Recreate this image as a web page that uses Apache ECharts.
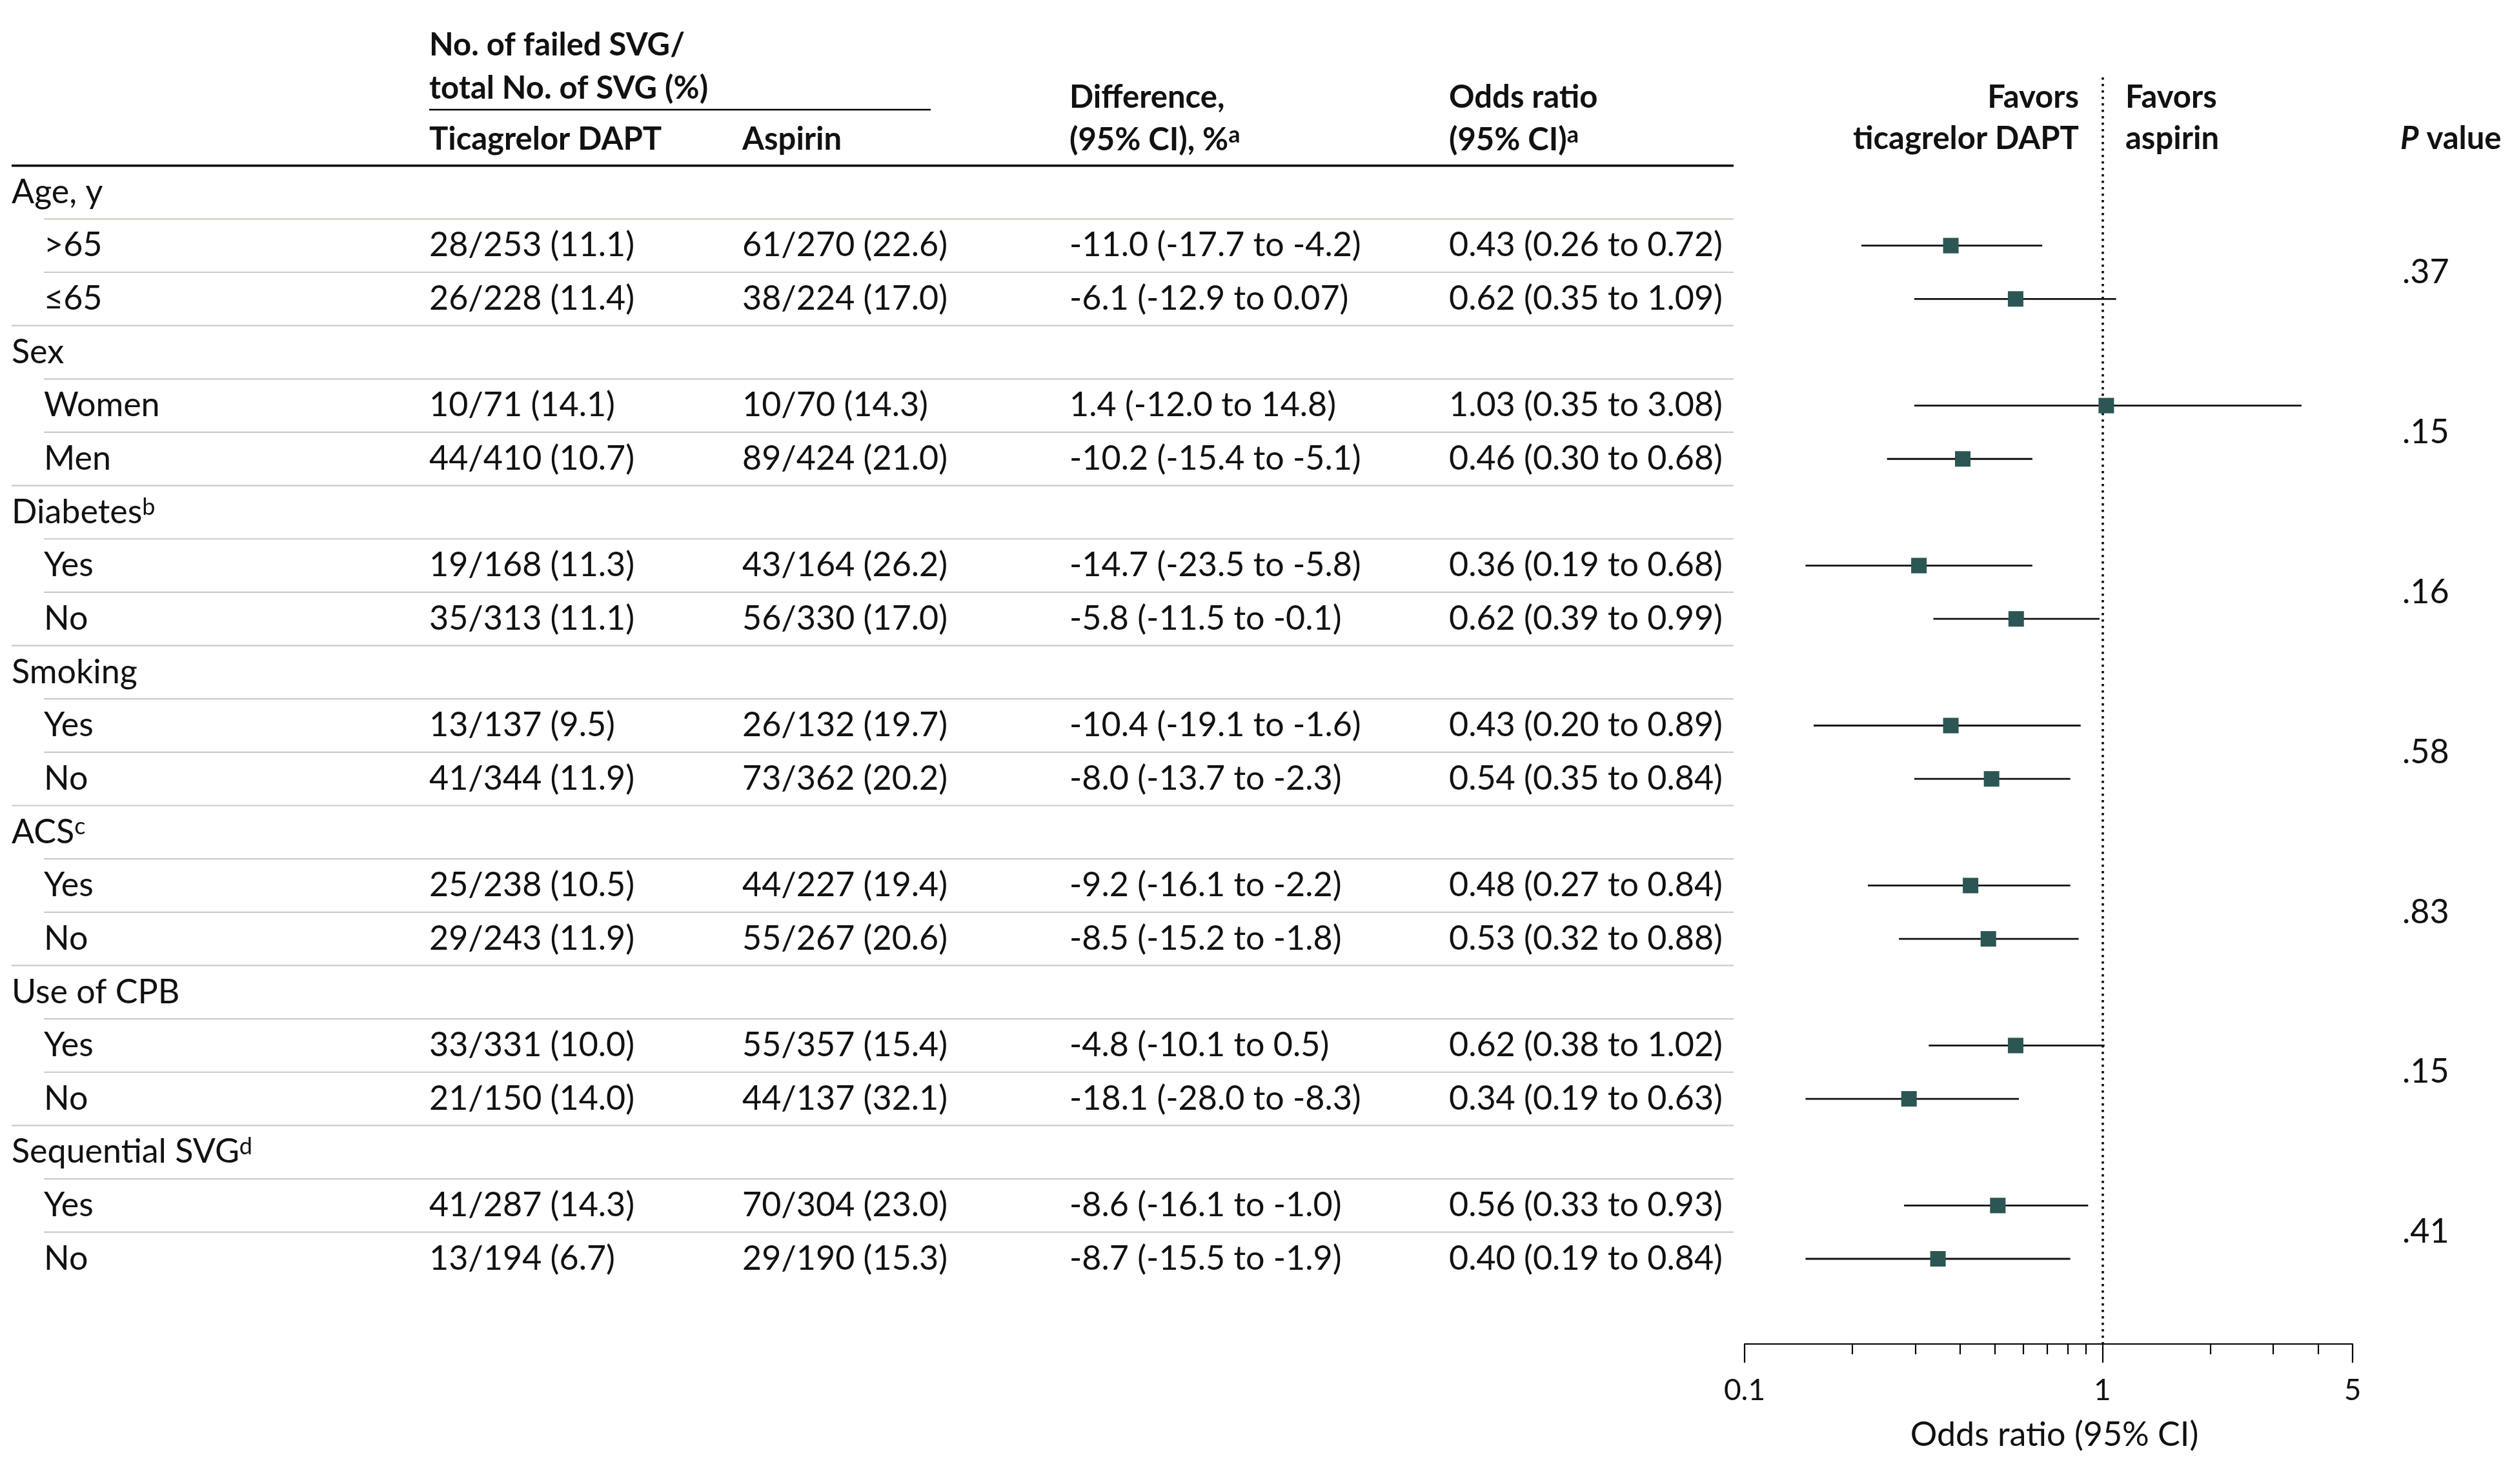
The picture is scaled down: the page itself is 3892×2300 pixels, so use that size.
<!DOCTYPE html>
<html>
<head>
<meta charset="utf-8">
<script src="https://cdn.jsdelivr.net/npm/echarts@6/dist/echarts.min.js"></script>
<style>
html,body{margin:0;padding:0;background:#ffffff;}
#chart{width:3892px;height:2300px;}
</style>
</head>
<body>
<div id="chart"></div>
<script>
// ---------------- DATA ----------------
const groupLabels = ['Age, y', 'Sex', 'Diabetes', 'Smoking', 'ACS', 'Use of CPB', 'Sequential SVG'];
const groupNotes = ['', '', 'b', '', 'c', '', 'd'];
const subgroupLabels = ['>65', '≤65', 'Women', 'Men', 'Yes', 'No', 'Yes', 'No', 'Yes', 'No', 'Yes', 'No', 'Yes', 'No'];
const ticagrelorCounts = ['28/253 (11.1)', '26/228 (11.4)', '10/71 (14.1)', '44/410 (10.7)', '19/168 (11.3)', '35/313 (11.1)',
  '13/137 (9.5)', '41/344 (11.9)', '25/238 (10.5)', '29/243 (11.9)', '33/331 (10.0)', '21/150 (14.0)', '41/287 (14.3)', '13/194 (6.7)'];
const aspirinCounts = ['61/270 (22.6)', '38/224 (17.0)', '10/70 (14.3)', '89/424 (21.0)', '43/164 (26.2)', '56/330 (17.0)',
  '26/132 (19.7)', '73/362 (20.2)', '44/227 (19.4)', '55/267 (20.6)', '55/357 (15.4)', '44/137 (32.1)', '70/304 (23.0)', '29/190 (15.3)'];
const differenceText = ['-11.0 (-17.7 to -4.2)', '-6.1 (-12.9 to 0.07)', '1.4 (-12.0 to 14.8)', '-10.2 (-15.4 to -5.1)',
  '-14.7 (-23.5 to -5.8)', '-5.8 (-11.5 to -0.1)', '-10.4 (-19.1 to -1.6)', '-8.0 (-13.7 to -2.3)', '-9.2 (-16.1 to -2.2)',
  '-8.5 (-15.2 to -1.8)', '-4.8 (-10.1 to 0.5)', '-18.1 (-28.0 to -8.3)', '-8.6 (-16.1 to -1.0)', '-8.7 (-15.5 to -1.9)'];
const oddsRatioText = ['0.43 (0.26 to 0.72)', '0.62 (0.35 to 1.09)', '1.03 (0.35 to 3.08)', '0.46 (0.30 to 0.68)',
  '0.36 (0.19 to 0.68)', '0.62 (0.39 to 0.99)', '0.43 (0.20 to 0.89)', '0.54 (0.35 to 0.84)', '0.48 (0.27 to 0.84)',
  '0.53 (0.32 to 0.88)', '0.62 (0.38 to 1.02)', '0.34 (0.19 to 0.63)', '0.56 (0.33 to 0.93)', '0.40 (0.19 to 0.84)'];
// positions of the plotted marks
const plottedOR    = [0.377, 0.572, 1.025, 0.407, 0.307, 0.574, 0.377, 0.490, 0.428, 0.480, 0.572, 0.288, 0.510, 0.347];
const plottedLower = [0.212, 0.298, 0.298, 0.250, 0.148, 0.337, 0.156, 0.298, 0.221, 0.270, 0.327, 0.148, 0.279, 0.148];
const plottedUpper = [0.679, 1.092, 3.600, 0.637, 0.637, 0.981, 0.869, 0.813, 0.813, 0.858, 1.014, 0.584, 0.912, 0.813];
const pValues = ['.37', '.15', '.16', '.58', '.83', '.15', '.41'];
const majorTicks = [0.1, 1, 5];
const majorTickLabels = ['0.1', '1', '5'];
const minorTicks = [0.2, 0.3, 0.4, 0.5, 0.6, 0.7, 0.8, 0.9, 2, 3, 4];
const axisTitle = 'Odds ratio (95% CI)';

// ---------------- LAYOUT ----------------
const FONT = 'Lato';
const INK = '#111111';
const RULE = '#c9cdc3';
const COL = { group: 18, sub: 68, tic: 665, asp: 1150, diff: 1657, or: 2245, p: 3722 };
const TABLE_RIGHT = 2686;
const ROW_TOP = 298, ROW_STEP = 82.65, PLOT_TOP = 120, PLOT_BOTTOM = 2083;
const yMin = (PLOT_TOP - ROW_TOP) / ROW_STEP;
const yMax = (PLOT_BOTTOM - ROW_TOP) / ROW_STEP;

const rows = [];
groupLabels.forEach((g, gi) => {
  rows.push({ kind: 'group', gi: gi });
  rows.push({ kind: 'sub', si: gi * 2 });
  rows.push({ kind: 'sub', si: gi * 2 + 1 });
});
const rowOfSub = s => Math.floor(s / 2) * 3 + 1 + (s % 2);

function supRich(weight, base) {
  return {
    s: { fontFamily: FONT, fontSize: 36, fontWeight: weight, fill: INK, textFill: INK, color: INK,
         verticalAlign: 'top', textVerticalAlign: 'top', lineHeight: 34 },
    i: { fontFamily: FONT, fontSize: base, fontWeight: weight, fontStyle: 'italic', fill: INK, textFill: INK, color: INK,
         lineHeight: 52 }
  };
}
function txt(x, y, text, opt) {
  opt = opt || {};
  const size = opt.size || 52;
  const weight = opt.weight || 'normal';
  const align = opt.align || 'left';
  return {
    type: 'text',
    silent: true,
    style: {
      x: x, y: y, text: text,
      fontFamily: FONT, fontSize: size, fontWeight: weight,
      fill: INK, textFill: INK,
      align: align, textAlign: align,
      verticalAlign: 'middle', textVerticalAlign: 'middle',
      lineHeight: 52, textLineHeight: 52,
      rich: supRich(weight, size)
    }
  };
}

function renderTable(params, api) {
  const i = params.dataIndex;
  const r = rows[i];
  const cy = api.coord([0, i])[1];
  const yTop = api.coord([0, i - 0.5])[1];
  const X = v => api.coord([v, i])[0];
  const children = [];
  const start = (r.kind === 'group') ? COL.group : COL.sub;
  children.push({
    type: 'line', silent: true,
    shape: { x1: X(start), y1: yTop, x2: X(TABLE_RIGHT), y2: yTop },
    style: { stroke: i === 0 ? '#000' : RULE, lineWidth: i === 0 ? 3.5 : 2.2 }
  });
  if (r.kind === 'group') {
    const note = groupNotes[r.gi];
    children.push(txt(X(COL.group), cy, groupLabels[r.gi] + (note ? '{s|' + note + '}' : '')));
    children.push(txt(X(COL.p), api.coord([0, i + 1.5])[1], pValues[r.gi]));
  } else {
    const s = r.si;
    children.push(txt(X(COL.sub), cy, subgroupLabels[s]));
    children.push(txt(X(COL.tic), cy, ticagrelorCounts[s]));
    children.push(txt(X(COL.asp), cy, aspirinCounts[s]));
    children.push(txt(X(COL.diff), cy, differenceText[s]));
    children.push(txt(X(COL.or), cy, oddsRatioText[s]));
  }
  return { type: 'group', children: children };
}

function renderCI(params, api) {
  const y = api.value(2);
  const a = api.coord([api.value(0), y]);
  const b = api.coord([api.value(1), y]);
  return {
    type: 'line', silent: true,
    shape: { x1: a[0], y1: a[1], x2: b[0], y2: b[1] },
    style: { stroke: '#111', lineWidth: 2.8 }
  };
}

const H = { weight: 'bold', size: 49 };
const HR = { weight: 'bold', size: 49, align: 'right' };
const headers = [
  txt(665, 70, 'No. of failed SVG/', H),
  txt(665, 137, 'total No. of SVG (%)', H),
  txt(665, 216, 'Ticagrelor DAPT', H),
  txt(1150, 216, 'Aspirin', H),
  txt(1657, 151, 'Difference,', H),
  txt(1657, 217, '(95% CI), %{s|a}', H),
  txt(2245, 151, 'Odds ratio', H),
  txt(2245, 217, '(95% CI){s|a}', H),
  txt(3221, 151, 'Favors', HR),
  txt(3221, 215, 'ticagrelor DAPT', HR),
  txt(3293, 151, 'Favors', H),
  txt(3293, 215, 'aspirin', H),
  txt(3719, 215, '{i|P} value', H),
  { type: 'line', silent: true, shape: { x1: 665, y1: 170, x2: 1442, y2: 170 }, style: { stroke: '#000', lineWidth: 2.5 } }
];

const chart = echarts.init(document.getElementById('chart'), null, { renderer: 'canvas', width: 3892, height: 2300 });

const option = {
  animation: false,
  backgroundColor: '#ffffff',
  textStyle: { fontFamily: FONT },
  grid: [
    { left: 2703, right: 3892 - 3645, top: PLOT_TOP, bottom: 2300 - PLOT_BOTTOM, containLabel: false, outerBoundsMode: 'none' },
    { left: 0, right: 0, top: PLOT_TOP, bottom: 2300 - PLOT_BOTTOM, containLabel: false, outerBoundsMode: 'none' }
  ],
  xAxis: [
    {
      gridIndex: 0, type: 'log', logBase: 10, min: 0.1, max: 5, position: 'bottom',
      axisLine: { show: true, onZero: false, lineStyle: { color: '#000', width: 2.2 } },
      axisTick: { show: true, customValues: majorTicks, length: 29, lineStyle: { color: '#000', width: 2.2 } },
      axisLabel: {
        show: true, customValues: majorTicks, margin: 49,
        fontFamily: FONT, fontSize: 46, color: INK,
        formatter: function (v) {
          let best = 0;
          majorTicks.forEach((t, k) => { if (Math.abs(Math.log(t / v)) < Math.abs(Math.log(majorTicks[best] / v))) best = k; });
          return majorTickLabels[best];
        }
      },
      splitLine: { show: false }, minorTick: { show: false }, minorSplitLine: { show: false },
      name: axisTitle, nameLocation: 'middle', nameGap: 115,
      nameTextStyle: { fontFamily: FONT, fontSize: 52, color: INK, padding: [0, 0, 0, 18] }
    },
    {
      gridIndex: 0, type: 'log', logBase: 10, min: 0.1, max: 5, position: 'bottom',
      axisLine: { show: false, onZero: false },
      axisTick: { show: true, customValues: minorTicks, length: 16, lineStyle: { color: '#000', width: 2.2 } },
      axisLabel: { show: false },
      splitLine: { show: false }, minorTick: { show: false }
    },
    { gridIndex: 1, type: 'value', min: 0, max: 3892, show: false, axisLine: { onZero: false }, splitLine: { show: false } }
  ],
  yAxis: [
    { gridIndex: 0, type: 'value', inverse: true, min: yMin, max: yMax, show: false, axisLine: { onZero: false }, splitLine: { show: false } },
    { gridIndex: 1, type: 'value', inverse: true, min: yMin, max: yMax, show: false, axisLine: { onZero: false }, splitLine: { show: false } }
  ],
  graphic: { elements: headers },
  series: [
    {
      type: 'custom', name: 'table', xAxisIndex: 2, yAxisIndex: 1, clip: false, silent: true,
      data: rows.map((r, i) => [0, i]), encode: { x: 0, y: 1 },
      renderItem: renderTable, z: 2
    },
    {
      type: 'custom', name: 'ci', xAxisIndex: 0, yAxisIndex: 0, clip: false, silent: true,
      data: plottedLower.map((lo, s) => [lo, plottedUpper[s], rowOfSub(s)]),
      encode: { x: [0, 1], y: 2 },
      renderItem: renderCI, z: 4
    },
    {
      type: 'scatter', name: 'or', xAxisIndex: 0, yAxisIndex: 0, silent: true,
      data: plottedOR.map((v, s) => [v, rowOfSub(s)]),
      symbol: 'rect', symbolSize: 24,
      itemStyle: { color: '#2b5654', opacity: 1 },
      z: 5,
      markLine: {
        silent: true, symbol: ['none', 'none'], label: { show: false },
        lineStyle: { type: [3.5, 6.5], color: '#000', width: 3.5 },
        emphasis: { disabled: true },
        data: [{ xAxis: 1 }],
        z: 1
      }
    }
  ]
};
chart.setOption(option);
</script>
</body>
</html>
